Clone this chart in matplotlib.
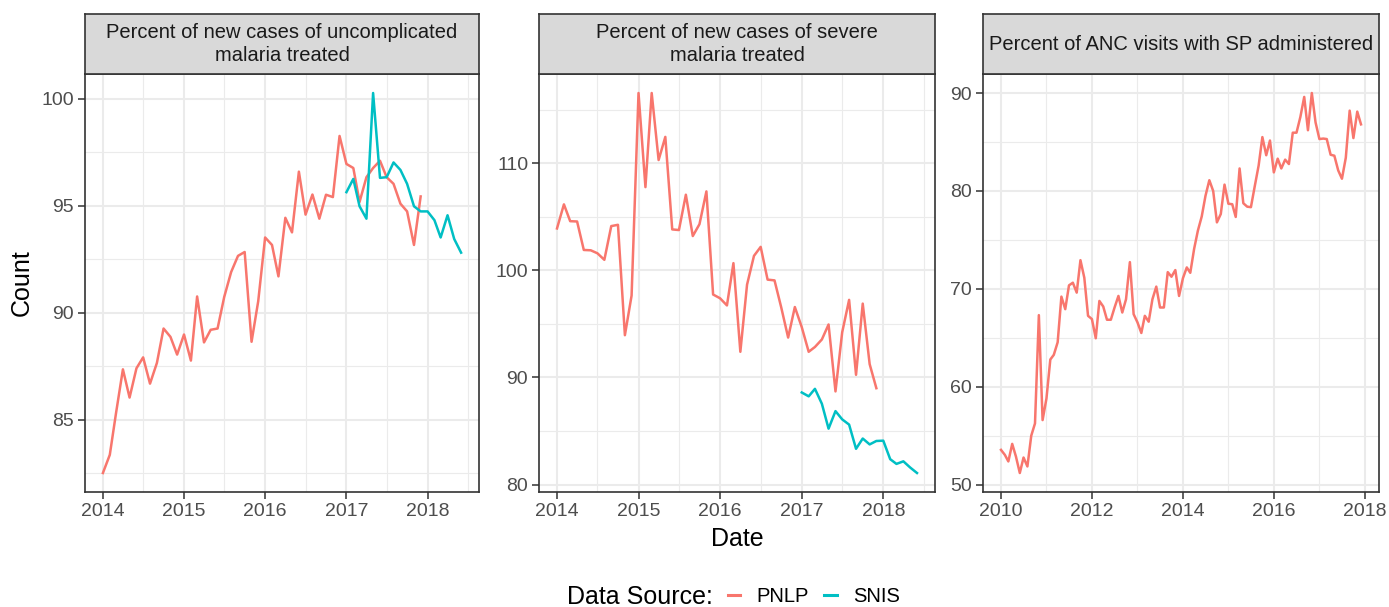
import matplotlib
matplotlib.use("Agg")
import matplotlib.pyplot as plt
import matplotlib.dates as mdates
from matplotlib.lines import Line2D
from matplotlib.ticker import MultipleLocator
import pandas as pd

plt.rcParams['font.family'] = ['Liberation Sans', 'DejaVu Sans']

# monthly indicator values
months_a = pd.date_range("2014-01-01", "2017-12-01", freq="MS")
months_b = pd.date_range("2017-01-01", "2018-06-01", freq="MS")
months_c = pd.date_range("2010-01-01", "2017-12-01", freq="MS")

uncomp_pnlp = [82.5, 83.35, 85.3, 87.35, 86.03, 87.4, 87.91, 86.68, 87.65, 89.26, 88.87, 88.04,
               88.98, 87.76, 90.76, 88.61, 89.2, 89.26, 90.74, 91.9, 92.66, 92.84, 88.64, 90.54,
               93.52, 93.17, 91.7, 94.44, 93.76, 96.6, 94.59, 95.53, 94.4, 95.52, 95.41, 98.27,
               96.96, 96.77, 95.18, 96.34, 96.77, 97.11, 96.34, 96.03, 95.1, 94.74, 93.17, 95.44]
uncomp_snis = [95.64, 96.26, 94.98, 94.4, 100.28, 96.31, 96.34, 97.03, 96.68, 96.03, 94.98, 94.74,
               94.74, 94.33, 93.52, 94.56, 93.45, 92.81]

severe_pnlp = [103.92, 106.17, 104.6, 104.57, 101.91, 101.88, 101.6, 100.99, 104.14, 104.26, 93.95, 97.65,
               116.57, 107.78, 116.57, 110.31, 112.47, 103.83, 103.77, 107.07, 103.21, 104.32, 107.38, 97.75,
               97.4, 96.73, 100.68, 92.4, 98.67, 101.36, 102.2, 99.14, 99.07, 96.55, 93.73, 96.58,
               94.7, 92.4, 92.85, 93.55, 94.95, 88.7, 94.22, 97.25, 90.25, 96.9, 91.25, 89.0]
severe_snis = [88.6, 88.24, 88.94, 87.55, 85.22, 86.86, 86.09, 85.6, 83.34, 84.3, 83.75, 84.07,
               84.1, 82.37, 81.93, 82.17, 81.6, 81.08]

anc_pnlp = [53.58, 53.07, 52.4, 54.19, 52.9, 51.22, 52.8, 51.89, 55.03, 56.28, 67.33, 56.62,
            58.82, 62.8, 63.28, 64.56, 69.22, 67.94, 70.37, 70.64, 69.63, 72.94, 71.15, 67.26,
            66.93, 64.97, 68.78, 68.21, 66.86, 66.86, 68.11, 69.29, 67.6, 68.95, 72.74, 67.43,
            66.59, 65.51, 67.26, 66.66, 68.95, 70.24, 68.11, 68.11, 71.72, 71.25, 71.93, 69.29,
            71.1, 72.2, 71.65, 74.1, 75.95, 77.4, 79.5, 81.1, 80.0, 76.8, 77.65, 80.65,
            78.7, 78.65, 77.35, 82.3, 78.75, 78.4, 78.35, 80.5, 82.6, 85.5, 83.65, 85.15,
            81.9, 83.3, 82.3, 83.2, 82.75, 85.95, 85.95, 87.55, 89.6, 86.2, 90.0, 87.0,
            85.3, 85.35, 85.3, 83.7, 83.6, 82.1, 81.25, 83.4, 88.2, 85.4, 88.1, 86.8]

titles = ["Percent of new cases of uncomplicated\nmalaria treated",
          "Percent of new cases of severe\nmalaria treated",
          "Percent of ANC visits with SP administered"]
sources = ["PNLP", "SNIS"]
RED = "#F8766D"
TEAL = "#00BFC4"

W, H = 1389, 607
fig = plt.figure(figsize=(W / 100, H / 100), dpi=100)

lefts = [85, 539, 983]
widths = [394, 396, 396]
top, bottom, strip_top = 74, 492, 14
fs_small = 14
fs_big = 18


def make_panel(i):
    ax = fig.add_axes([lefts[i] / W, 1 - bottom / H, widths[i] / W, (bottom - top) / H])
    st = fig.add_axes([lefts[i] / W, 1 - top / H, widths[i] / W, (top - strip_top) / H])
    st.set_facecolor("#D9D9D9")
    st.set_xticks([])
    st.set_yticks([])
    for s in st.spines.values():
        s.set_color("#333333")
        s.set_linewidth(1.2)
    st.text(0.5, 0.5, titles[i], ha="center", va="center", fontsize=14.5,
            color="#1A1A1A", linespacing=1.25, transform=st.transAxes)
    for s in ax.spines.values():
        s.set_color("#333333")
        s.set_linewidth(1.2)
    ax.set_axisbelow(True)
    ax.grid(which="major", color="#EBEBEB", linewidth=1.5)
    ax.grid(which="minor", color="#EBEBEB", linewidth=0.8)
    ax.tick_params(which="major", length=4.8, width=1.1, color="#333333",
                   labelsize=fs_small, labelcolor="#4D4D4D", pad=3)
    ax.tick_params(which="minor", length=0)
    return ax


ax1 = make_panel(0)
ax1.plot(months_a, uncomp_pnlp, color=RED, lw=1.8)
ax1.plot(months_b, uncomp_snis, color=TEAL, lw=1.8)
ax1.yaxis.set_major_locator(MultipleLocator(5))
ax1.yaxis.set_minor_locator(MultipleLocator(2.5))

ax2 = make_panel(1)
ax2.plot(months_a, severe_pnlp, color=RED, lw=1.8)
ax2.plot(months_b, severe_snis, color=TEAL, lw=1.8)
ax2.yaxis.set_major_locator(MultipleLocator(10))
ax2.yaxis.set_minor_locator(MultipleLocator(5))

for ax in (ax1, ax2):
    ax.xaxis.set_major_locator(mdates.YearLocator(1))
    ax.xaxis.set_minor_locator(mdates.MonthLocator(bymonth=7))
    ax.xaxis.set_major_formatter(mdates.DateFormatter("%Y"))

ax3 = make_panel(2)
ax3.plot(months_c, anc_pnlp, color=RED, lw=1.8)
ax3.yaxis.set_major_locator(MultipleLocator(10))
ax3.yaxis.set_minor_locator(MultipleLocator(5))
ax3.xaxis.set_major_locator(mdates.YearLocator(2))
ax3.xaxis.set_minor_locator(mdates.YearLocator(1))
ax3.xaxis.set_major_formatter(mdates.DateFormatter("%Y"))

fig.text(22 / W, 1 - 283 / H, "Count", rotation=90, ha="center", va="center", fontsize=fs_big)
fig.text(737 / W, 1 - 539 / H, "Date", ha="center", va="center", fontsize=fs_big)

# legend along the bottom
fig.text(567 / W, 1 - 597 / H, "Data Source:", ha="left", va="center", fontsize=fs_big)
handles = [Line2D([], [], color=RED, lw=2.2), Line2D([], [], color=TEAL, lw=2.2)]
fig.legend(handles, sources, ncol=2, loc="center left", bbox_to_anchor=(728 / W, 1 - 597 / H),
           frameon=False, fontsize=14.5, handlelength=0.62, handletextpad=0.8,
           columnspacing=0.75, borderpad=0, borderaxespad=0)

plt.savefig("out.png", dpi=100)
